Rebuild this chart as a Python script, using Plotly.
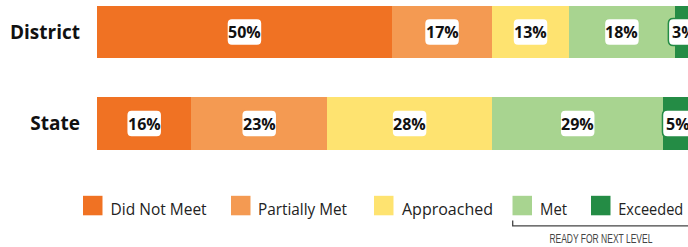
import plotly.graph_objects as go
import json

categories = ["State", "District"]
levels = ["Did Not Meet", "Partially Met", "Approached", "Met", "Exceeded"]
colors = ["#F07223", "#F49A52", "#FEE370", "#A8D490", "#248C45"]
district_values = [50, 17, 13, 18, 3]
state_values = [16, 23, 28, 29, 5]
bracket_label = "READY FOR NEXT LEVEL"

values_by_cat = {"District": district_values, "State": state_values}

W, H = 688, 247
ML, MT, PH = 97, 0, 170
PW = W - ML

def px_x(p):
    return (p - ML) / PW

def px_y(p):
    return (MT + PH - p) / PH

fig = go.Figure()
for i, lvl in enumerate(levels):
    fig.add_trace(go.Bar(
        y=categories,
        x=[values_by_cat[c][i] for c in categories],
        orientation="h",
        name=lvl,
        marker=dict(color=colors[i], line=dict(width=0)),
        width=0.57,
        showlegend=False,
        hoverinfo="skip",
    ))

shapes = []
annotations = []

def rrect(w, h, r):
    a, b = w / 2, h / 2
    return (f"M {-a+r},{-b} L {a-r},{-b} Q {a},{-b} {a},{-b+r} "
            f"L {a},{b-r} Q {a},{b} {a-r},{b} L {-a+r},{b} Q {-a},{b} {-a},{b-r} "
            f"L {-a},{-b+r} Q {-a},{-b} {-a+r},{-b} Z")

for ci, cat in enumerate(categories):
    cum = 0
    for i, v in enumerate(values_by_cat[cat]):
        cx = cum + v / 2
        cum += v
        txt = f"{v}%"
        bw = 35 if len(txt) >= 3 else 31
        shapes.append(dict(
            type="path", xref="x", yref="y", xsizemode="pixel", ysizemode="pixel",
            xanchor=cx, yanchor=ci, path=rrect(bw, 27, 5),
            fillcolor="white", line=dict(color=colors[i], width=1.5), layer="above",
        ))
        annotations.append(dict(
            x=cx, y=ci, xref="x", yref="y", text=f"<b>{txt}</b>", showarrow=False,
            font=dict(family="Open Sans", size=16, color="#111"),
            xanchor="center", yanchor="middle",
        ))

# legend (manual)
sq_x = [83, 231, 374, 512.5, 591]
sq_w = 19.5
txt_x = [110, 258.3, 401.7, 540, 618.3]
txt_w = [96, 89, 91, 27, 65]
for i, lvl in enumerate(levels):
    shapes.append(dict(
        type="rect", xref="paper", yref="paper",
        x0=px_x(sq_x[i]), x1=px_x(sq_x[i] + sq_w),
        y0=px_y(215.3), y1=px_y(195.8),
        fillcolor=colors[i], line=dict(width=0),
    ))
    annotations.append(dict(
        x=px_x(txt_x[i] + txt_w[i] / 2), y=px_y(208.5), xref="paper", yref="paper",
        text=lvl, showarrow=False, xanchor="center", yanchor="middle",
        font=dict(family="Open Sans", size=16, color="#222"),
    ))

# bracket
bx0 = px_x(512.7)
shapes.append(dict(type="path", xref="paper", yref="paper",
                   path=f"M {bx0},{px_y(220.5)} L {bx0},{px_y(225.8)} L 1.02,{px_y(225.8)}",
                   line=dict(color="#444", width=1.3)))
annotations.append(dict(
    x=px_x(601), y=px_y(239), xref="paper", yref="paper",
    text=bracket_label, showarrow=False, xanchor="center", yanchor="middle",
    font=dict(family="Liberation Sans", size=13, color="#444"),
))

fig.update_layout(
    width=W, height=H,
    margin=dict(l=ML, r=0, t=MT, b=H - MT - PH, pad=0, autoexpand=False),
    barmode="stack", bargap=0,
    plot_bgcolor="white", paper_bgcolor="white",
    shapes=shapes, annotations=annotations,
    xaxis=dict(range=[0, 100.2], visible=False, fixedrange=True, automargin=False),
    yaxis=dict(type="category", categoryarray=categories, range=[-0.508, 1.35],
               showgrid=False, zeroline=False, showline=False, ticks="",
               ticklabelstandoff=16, automargin=False,
               tickfont=dict(family="Open Sans", size=19, color="#111", weight="bold"),
               fixedrange=True),
)

# fit the legend texts to their reference widths
widths = {lvl: w for lvl, w in zip(levels, txt_w)}
widths[bracket_label] = 103
post = """
document.body.style.margin = '0';
document.body.style.overflow = 'hidden';
var W = %s;
document.querySelectorAll('text.annotation-text').forEach(function(t){
  var k = t.textContent;
  if (W[k] !== undefined) {
    t.setAttribute('textLength', W[k]);
    t.setAttribute('lengthAdjust', 'spacingAndGlyphs');
  }
});
""" % json.dumps(widths)

fig.write_html("out.html", config={"displayModeBar": False}, post_script=post)
